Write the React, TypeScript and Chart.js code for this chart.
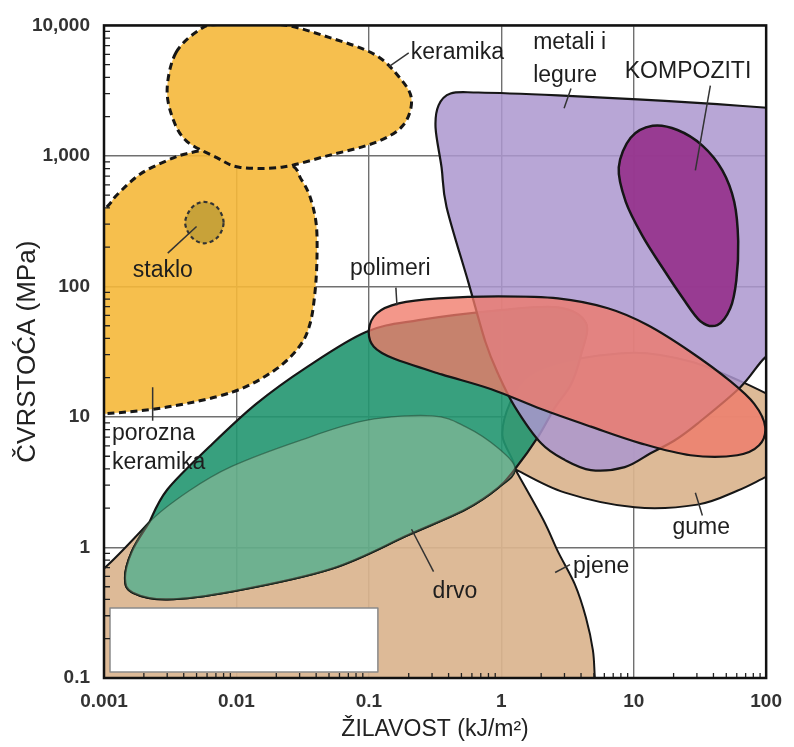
import { useEffect, useRef } from "react";
import { Chart, registerables } from "chart.js";
Chart.register(...registerables);

// ---- axes ----
const xTickValues = [0.001, 0.01, 0.1, 1, 10, 100];
const xTickLabels = ["0.001", "0.01", "0.1", "1", "10", "100"];
const yTickValues = [0.1, 1, 10, 100, 1000, 10000];
const yTickLabels = ["0.1", "1", "10", "100", "1,000", "10,000"];
const xTitle = "ŽILAVOST (kJ/m²)";
const yTitle = "ČVRSTOĆA (MPa)";

// ---- material regions: [toughness kJ/m², strength MPa] ----
const porozna: [number, number][] = [
  [0.00047, 10.2], [0.00047, 10.2], [0.00047, 203], [0.00047, 203], [0.001, 387], [0.00125, 502],
  [0.00187, 724], [0.003, 923], [0.0042, 1040], [0.0063, 1100], [0.0105, 940], [0.025, 860],
  [0.0308, 663], [0.036, 485], [0.04, 303], [0.0406, 171], [0.0393, 93], [0.036, 52],
  [0.0298, 34.5], [0.0193, 22.7], [0.0093, 15.5], [0.003, 11.9], [0.00105, 10.6],
];
const keramika: [number, number][] = [
  [0.0035, 6200], [0.0053, 9300], [0.0074, 10200], [0.021, 10200], [0.05, 8100], [0.11, 6000],
  [0.17, 4000], [0.21, 2700], [0.18, 1700], [0.11, 1260], [0.05, 1010], [0.022, 820],
  [0.0105, 820], [0.0071, 970], [0.0042, 1300], [0.0033, 1950], [0.003, 3300],
];
const staklo: [number, number][] = [
  [0.008, 308], [0.0072, 401], [0.0057, 445], [0.0046, 401], [0.0041, 308], [0.0046, 238],
  [0.0057, 214], [0.0072, 238],
];
const pjeneGume: [number, number][] = [
  [0.001, 0.69], [0.0022, 1.56], [0.0022, 1.56], [0.00162, 0.93], [0.00144, 0.58], [0.00165, 0.45],
  [0.003, 0.4], [0.0093, 0.46], [0.053, 0.69], [0.2, 1.25], [0.54, 1.96], [0.95, 2.87],
  [1.27, 3.99], [1.02, 7.2], [1.17, 13], [1.6, 20.5], [3.03, 26.6], [10.2, 31.1], [26.8, 26.6],
  [63.8, 18.8], [144, 12.6], [144, 12.6], [144, 4.06], [144, 4.06], [100, 3.47], [60.5, 2.72],
  [30.3, 2.13], [10.2, 2.03], [3.03, 2.63], [1.27, 3.99], [1.27, 3.99], [2.07, 1.64], [2.68, 0.93],
  [3.6, 0.52], [4.36, 0.29], [4.92, 0.163], [5.09, 0.1], [5.36, 0.057], [5.36, 0.057],
  [0.00047, 0.057], [0.00047, 0.057], [0.00047, 0.4], [0.00047, 0.4],
];
const prazno: [number, number][] = [
  [0.00111, 0.344], [0.117, 0.344], [0.117, 0.111], [0.00111, 0.111],
];
const zeleno: [number, number][] = [
  [0.0022, 1.56], [0.0022, 1.56], [0.003, 2.77], [0.0063, 5.96], [0.0141, 12.6], [0.0336, 23.9],
  [0.095, 44.8], [0.238, 55.2], [0.95, 65.6], [2.68, 69.2], [4.36, 52.4], [4.0, 30], [3.36, 17.8],
  [2.55, 11.9], [1.9, 7.08], [1.27, 3.99], [0.95, 2.87], [0.54, 1.96], [0.2, 1.25], [0.053, 0.69],
  [0.0093, 0.46], [0.003, 0.4], [0.00165, 0.45], [0.00144, 0.58], [0.00162, 0.93],
];
const drvo: [number, number][] = [
  [0.00144, 0.58], [0.00162, 0.93], [0.0022, 1.56], [0.0044, 2.72], [0.0093, 4.2], [0.03, 6.6],
  [0.095, 9.4], [0.3, 10.2], [0.54, 8.4], [0.95, 5.75], [1.27, 3.99], [0.95, 2.87], [0.54, 1.96],
  [0.2, 1.25], [0.053, 0.69], [0.0093, 0.46], [0.003, 0.4], [0.00165, 0.45],
];
const metali: [number, number][] = [
  [0.319, 1640], [0.336, 2440], [0.414, 3010], [0.672, 3060], [2.68, 2910], [10.7, 2710],
  [42.8, 2490], [144, 2280], [144, 2280], [144, 35.7], [144, 35.7], [98, 28.5], [63.8, 16.9],
  [30.3, 8.9], [20.3, 6.6], [13.4, 5.27], [8.56, 4.13], [4.75, 3.92], [3.03, 4.67], [2.0, 6.28],
  [1.27, 11.9], [0.95, 21.2], [0.758, 37.7], [0.565, 107], [0.386, 407], [0.354, 817],
];
const kompoziti: [number, number][] = [
  [9.48, 1377], [13.9, 1700], [21.4, 1580], [33.0, 1200], [46.7, 776], [57.4, 445], [61.5, 222],
  [59.5, 111], [53.6, 68], [42.8, 50.6], [31.9, 54.2], [23.3, 82.3], [16.5, 139], [11.7, 242],
  [8.71, 445], [7.71, 817],
];
const polimeri: [number, number][] = [
  [0.1, 46.4], [0.115, 62.3], [0.168, 74.1], [0.336, 80.9], [0.95, 83.8], [2.68, 80.9], [6.38, 68],
  [12.7, 50.6], [26.8, 31.6], [53.6, 18.8], [81.3, 12.6], [98.2, 8.43], [88.5, 6.06], [60.5, 5.09],
  [26.8, 5.09], [11.3, 6.28], [4.75, 8.43], [2.0, 11.5], [0.841, 16.3], [0.354, 21.2],
  [0.154, 28.0], [0.109, 34.5],
];

// ---- leader lines ----
const leaderKeramika: [number, number][] = [[0.141, 4820], [0.2, 6150]];
const leaderMetali: [number, number][] = [[3.36, 3290], [2.98, 2320]];
const leaderKompoziti: [number, number][] = [[37.9, 3460], [29.2, 776]];
const leaderPolimeri: [number, number][] = [[0.16, 97.9], [0.163, 71.6]];
const leaderStaklo: [number, number][] = [[0.00303, 180], [0.005, 288]];
const leaderPorozna: [number, number][] = [[0.00233, 16.9], [0.00233, 9.36]];
const leaderDrvo: [number, number][] = [[0.21, 1.38], [0.308, 0.654]];
const leaderPjene: [number, number][] = [[2.55, 0.643], [3.3, 0.739]];
const leaderGume: [number, number][] = [[29.2, 2.63], [33.0, 1.76]];

// ---- labels ----
const labelTexts = ["keramika", "metali i", "legure", "KOMPOZITI", "polimeri", "staklo", "porozna", "keramika", "drvo", "pjene", "gume"];
const labelXs = [0.207, 1.74, 1.74, 8.56, 0.072, 0.00165, 0.00115, 0.00115, 0.303, 3.48, 19.6];
const labelYs = [6150, 7440, 4120, 4420, 136, 132, 7.47, 4.43, 0.462, 0.714, 1.43];

const minorMultipliers = [2, 3, 4, 5, 6, 7, 8, 9];

type Style = { fill?: string; stroke?: string; width?: number; dash?: number[]; smooth: boolean; closed: boolean };

const INK = "#161616";
const layers: { name: string; data: [number, number][]; style: Style }[] = [
  { name: "porozna keramika", data: porozna, style: { fill: "rgba(245,184,58,0.9)", stroke: INK, width: 3, dash: [7, 4.5], smooth: true, closed: true } },
  { name: "keramika", data: keramika, style: { fill: "rgb(246,191,78)", stroke: INK, width: 3, dash: [7, 4.5], smooth: true, closed: true } },
  { name: "staklo", data: staklo, style: { fill: "rgba(195,160,55,0.92)", stroke: "#333", width: 2.2, dash: [4, 3], smooth: true, closed: true } },
  { name: "pjene i gume", data: pjeneGume, style: { fill: "rgba(218,180,142,0.92)", stroke: INK, width: 2, smooth: true, closed: true } },
  { name: "okvir", data: prazno, style: { fill: "#ffffff", stroke: "#8a8a8a", width: 1.5, smooth: false, closed: true } },
  { name: "zeleno", data: zeleno, style: { fill: "rgba(34,150,112,0.9)", stroke: INK, width: 2.2, smooth: true, closed: true } },
  { name: "drvo", data: drvo, style: { fill: "rgba(225,215,185,0.32)", stroke: "rgba(30,70,50,0.55)", width: 1.3, smooth: true, closed: true } },
  { name: "metali i legure", data: metali, style: { fill: "rgba(172,150,207,0.85)", stroke: INK, width: 2.2, smooth: true, closed: true } },
  { name: "kompoziti", data: kompoziti, style: { fill: "rgba(150,50,140,0.92)", stroke: INK, width: 2.5, smooth: true, closed: true } },
  { name: "polimeri", data: polimeri, style: { fill: "rgba(240,122,105,0.78)", stroke: INK, width: 2.2, smooth: true, closed: true } },
  ...[leaderKeramika, leaderMetali, leaderKompoziti, leaderPolimeri, leaderStaklo, leaderPorozna, leaderDrvo, leaderPjene, leaderGume].map((d, i) => ({
    name: "leader" + i, data: d, style: { stroke: "#333", width: 1.5, smooth: false, closed: false } as Style,
  })),
];

function tracePath(ctx: CanvasRenderingContext2D, pts: number[][], closed: boolean, smooth: boolean) {
  const n = pts.length;
  ctx.moveTo(pts[0][0], pts[0][1]);
  if (!smooth) {
    for (let i = 1; i < n; i++) ctx.lineTo(pts[i][0], pts[i][1]);
    if (closed) ctx.closePath();
    return;
  }
  const segs = closed ? n : n - 1;
  const t = 1 / 6;
  for (let i = 0; i < segs; i++) {
    const p1 = pts[i];
    const p2 = pts[(i + 1) % n];
    if (Math.abs(p1[0] - p2[0]) < 0.01 && Math.abs(p1[1] - p2[1]) < 0.01) continue;
    const p0 = closed ? pts[(i - 1 + n) % n] : pts[Math.max(i - 1, 0)];
    const p3 = closed ? pts[(i + 2) % n] : pts[Math.min(i + 2, n - 1)];
    ctx.bezierCurveTo(
      p1[0] + (p2[0] - p0[0]) * t, p1[1] + (p2[1] - p0[1]) * t,
      p2[0] - (p3[0] - p1[0]) * t, p2[1] - (p3[1] - p1[1]) * t,
      p2[0], p2[1]
    );
  }
  if (closed) ctx.closePath();
}

const regionsPlugin = {
  id: "regions",
  beforeDatasetsDraw(chart: any) {
    const { ctx, chartArea, scales } = chart;
    const xs = scales.x, ys = scales.y;
    ctx.save();
    ctx.beginPath();
    ctx.rect(chartArea.left, chartArea.top, chartArea.right - chartArea.left, chartArea.bottom - chartArea.top);
    ctx.clip();
    ctx.lineJoin = "round";
    ctx.lineCap = "butt";
    chart.data.datasets.forEach((ds: any) => {
      const st: Style = ds.regionStyle;
      if (!st) return;
      const pts = ds.data.map((p: any) => [xs.getPixelForValue(p.x), ys.getPixelForValue(p.y)]);
      ctx.beginPath();
      tracePath(ctx, pts, st.closed, st.smooth);
      if (st.fill) {
        ctx.fillStyle = st.fill;
        ctx.fill();
      }
      if (st.stroke) {
        ctx.setLineDash(st.dash || []);
        ctx.strokeStyle = st.stroke;
        ctx.lineWidth = st.width || 1;
        ctx.stroke();
        ctx.setLineDash([]);
      }
    });
    ctx.restore();
  },
  afterDatasetsDraw(chart: any) {
    const { ctx, scales } = chart;
    ctx.save();
    ctx.font = '23px "Liberation Sans", Arial, sans-serif';
    ctx.fillStyle = "#1e1e1e";
    ctx.textAlign = "left";
    ctx.textBaseline = "middle";
    labelTexts.forEach((t, i) => {
      ctx.fillText(t, scales.x.getPixelForValue(labelXs[i]), scales.y.getPixelForValue(labelYs[i]));
    });
    ctx.restore();
  },
  afterDraw(chart: any) {
    const { ctx, chartArea, scales } = chart;
    const { left, right, top, bottom } = chartArea;
    ctx.save();
    ctx.strokeStyle = "#222";
    ctx.lineWidth = 1.3;
    ctx.beginPath();
    for (let k = -1; k < 4; k++) {
      minorMultipliers.forEach((m) => {
        const py = scales.y.getPixelForValue(m * Math.pow(10, k));
        ctx.moveTo(left, py);
        ctx.lineTo(left + 6, py);
      });
    }
    for (let k = -3; k < 2; k++) {
      minorMultipliers.forEach((m) => {
        const px = scales.x.getPixelForValue(m * Math.pow(10, k));
        ctx.moveTo(px, bottom);
        ctx.lineTo(px, bottom - 5);
      });
    }
    ctx.stroke();
    ctx.strokeStyle = "#111";
    ctx.lineWidth = 2.5;
    ctx.strokeRect(left, top, right - left, bottom - top);
    ctx.restore();
  },
};

export default function App() {
  const ref = useRef<HTMLCanvasElement | null>(null);
  useEffect(() => {
    if (!ref.current) return;
    Chart.defaults.font.family = '"Liberation Sans", Arial, sans-serif';
    const chart = new Chart(ref.current, {
      type: "scatter",
      data: {
        datasets: layers.map((l) => ({
          label: l.name,
          data: l.data.map(([x, y]) => ({ x, y })),
          showLine: false,
          pointRadius: 0,
          pointHoverRadius: 0,
          regionStyle: l.style,
        })) as any,
      },
      options: {
        responsive: false,
        animation: false,
        events: [],
        layout: { padding: { top: 16, right: 25, left: 0, bottom: 0 } },
        plugins: { legend: { display: false }, tooltip: { enabled: false } },
        scales: {
          x: {
            type: "logarithmic",
            position: "bottom",
            min: 0.001,
            max: 100,
            afterBuildTicks: (s: any) => { s.ticks = xTickValues.map((v) => ({ value: v })); },
            afterFit: (s: any) => { s.height = 69; },
            ticks: {
              autoSkip: false,
              maxRotation: 0,
              padding: 12,
              color: "#333",
              font: { size: 19, weight: "bold" },
              callback: (_v: any, i: number) => xTickLabels[i],
            },
            grid: { color: "#707070", lineWidth: 1.4, drawTicks: false },
            border: { display: false },
            title: { display: true, text: xTitle, color: "#222", font: { size: 23 }, padding: { top: 0, bottom: 4 } },
          },
          y: {
            type: "logarithmic",
            position: "left",
            min: 0.1,
            max: 10000,
            afterBuildTicks: (s: any) => { s.ticks = yTickValues.map((v) => ({ value: v })); },
            afterFit: (s: any) => { s.width = 104; },
            ticks: {
              autoSkip: false,
              padding: 14,
              color: "#333",
              font: { size: 19, weight: "bold" },
              callback: (_v: any, i: number) => yTickLabels[i],
            },
            grid: { color: "#707070", lineWidth: 1.4, drawTicks: false },
            border: { display: false },
            title: { display: true, text: yTitle, color: "#222", font: { size: 26 }, padding: { top: 12, bottom: 0 } },
          },
        },
      },
      plugins: [regionsPlugin],
    } as any);
    return () => chart.destroy();
  }, []);
  return (
    <div style={{ position: "absolute", left: 0, top: 0, width: 794, height: 747 }}>
      <canvas ref={ref} width={794} height={747} style={{ display: "block" }} />
    </div>
  );
}
